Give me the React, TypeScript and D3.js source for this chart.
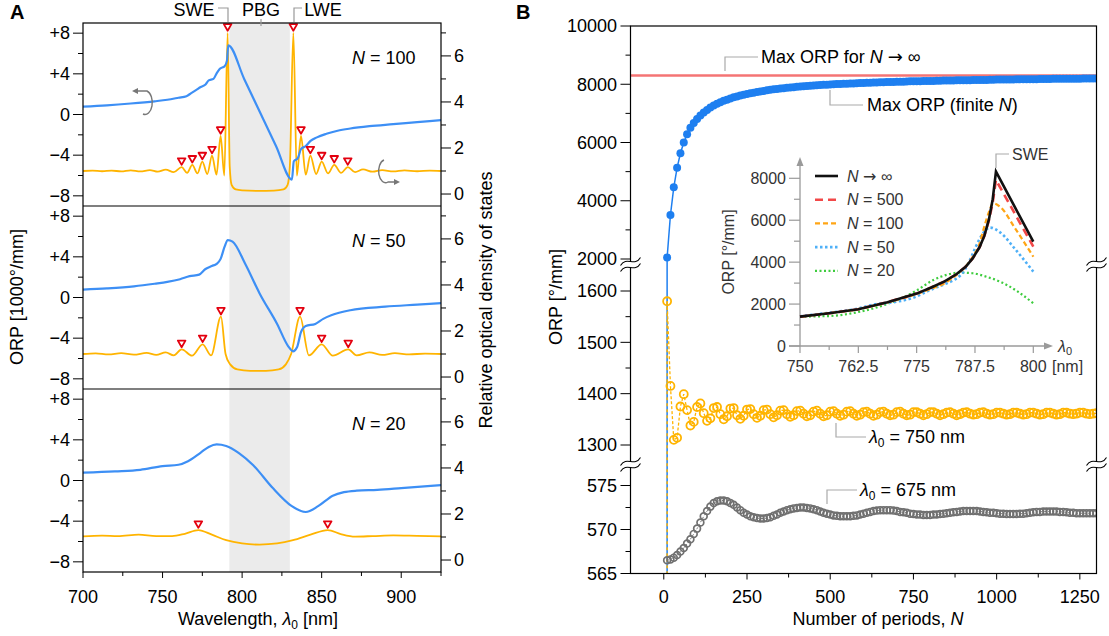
import React from 'react'
import * as d3 from 'd3'

const FONT = '"Liberation Sans", Arial, Helvetica, sans-serif'
const ARROW_FONT = '"DejaVu Sans", sans-serif'

// ---------- panel A : [wavelength nm, value] ----------
// ORP in 1000 deg/mm (left axis)
const orp100 = [[700,0.77],[715,0.9],[730,1.08],[745,1.3],[753,1.45],[760,1.65],[765,1.8],[768,2.1],[771,2.4],[774,2.7],[777,2.95],[779,3.35],[782,3.5],[784,4.05],[786,4.5],[789,4.75],[790.5,5.3],[791.3,6.8],[801.3,3.5],[811.3,0.2],[821.3,-3.1],[831.3,-6.4],[832.5,-4.6],[835,-4.3],[837,-3.4],[840,-3.1],[843,-2.6],[847,-2.25],[853,-1.9],[860,-1.6],[868,-1.38],[880,-1.15],[895,-0.95],[910,-0.75],[925,-0.55]]
const orp50 = [[700,0.78],[715,0.9],[732,1.1],[745,1.35],[753,1.53],[761,1.8],[767,2.1],[773,2.25],[777,2.8],[781,3.1],[784,3.3],[786.5,3.8],[789,5.0],[791,5.65],[794,5.5],[802,3.3],[811,0.4],[822,-2.6],[829,-4.8],[832,-5.3],[834.5,-4.9],[837,-3.4],[840,-2.8],[846,-2.6],[851,-2.1],[856,-1.75],[868,-1.25],[890,-0.9],[910,-0.7],[925,-0.55]]
const orp20 = [[700,0.77],[720,0.9],[736,1.05],[750,1.42],[760,1.55],[766,1.9],[774,2.75],[779,3.3],[784,3.55],[790,3.4],[798,2.7],[807,1.5],[819,-0.7],[831,-2.5],[840,-3.1],[848,-2.5],[857,-1.5],[864,-1.15],[872,-1.0],[885,-0.92],[900,-0.75],[925,-0.45]]

// relative optical density of states (right axis)
const ldos100 = [[700,1.0],[706,1.02],[712,0.99],[718,1.02],[724,0.98],[730,1.03],[736,0.98],[742,1.04],[747,0.97],[752,1.06],[757,0.95],[762,1.17],[765.4,0.92],[768.7,1.27],[771.9,0.9],[775,1.41],[778.1,0.87],[781.1,1.67],[783.9,0.84],[786.5,2.52],[788.8,0.8],[790.9,7.0],[792.2,1.2],[793.4,0.4],[796,0.2],[800,0.16],[810,0.14],[820,0.15],[826,0.2],[828.6,0.4],[830,1.2],[832.2,7.0],[834.4,0.8],[837,2.52],[840,0.84],[842.9,1.67],[846.5,0.87],[850,1.41],[854,0.9],[857.9,1.27],[862.2,0.92],[866.4,1.17],[871,0.95],[876,1.07],[882,0.97],[888,1.04],[895,0.98],[902,1.03],[910,0.99],[918,1.02],[925,1.0]]
const ldos50 = [[700,1.0],[708,1.03],[716,0.98],[724,1.04],[732,0.97],[740,1.05],[746,0.96],[752,1.07],[757,0.94],[762,1.2],[768.5,0.93],[775.2,1.42],[780.5,0.94],[786.7,2.62],[789.6,1.0],[792.5,0.55],[797,0.33],[805,0.27],[815,0.27],[823,0.33],[827.5,0.55],[830.8,1.0],[836.4,2.62],[842,0.94],[850,1.42],[857,0.93],[866.7,1.2],[872,0.94],[880,1.07],[888,0.96],[896,1.04],[905,0.98],[915,1.02],[925,1.0]]
const ldos20 = [[700,1.03],[712,1.06],[722,1.04],[735,1.1],[746,1.04],[756,1.04],[764,1.14],[772.5,1.3],[781,1.1],[790,0.86],[800,0.72],[811,0.67],[822,0.72],[832,0.86],[843,1.1],[853.8,1.3],[862,1.13],[871,1.02],[882,1.04],[895,1.07],[910,1.05],[925,1.03]]

// marked DOS peaks
const peaks100 = [[762.0,1.17],[768.7,1.27],[775.0,1.41],[781.1,1.67],[786.5,2.52],[790.9,7.0],[832.2,7.0],[837.0,2.52],[842.9,1.67],[850.0,1.41],[857.9,1.27],[866.4,1.17]]
const peaks50 = [[762.0,1.2],[775.2,1.42],[786.7,2.62],[836.4,2.62],[850.0,1.42],[866.7,1.2]]
const peaks20 = [[772.5,1.3],[853.8,1.3]]

const gapEdges = [792, 830]
const panelN = ['100', '50', '20']

// ---------- panel B : ORP vs number of periods ----------
const periods = d3.range(10, 1310, 10)
const maxOrp = [2050,3510,4460,5130,5630,6000,6280,6510,6670,6810,
  6930,7030,7120,7200,7270,7330,7380,7430,7470,7510,
  7550,7580,7610,7640,7665,7690,7710,7730,7750,7770,
  7790,7810,7825,7840,7855,7865,7880,7890,7900,7910,
  7920,7930,7940,7950,7955,7965,7970,7980,7985,7995,
  8000,8005,8010,8015,8020,8025,8030,8035,8040,8045,
  8050,8055,8060,8060,8065,8070,8075,8075,8080,8085,
  8090,8090,8095,8100,8100,8105,8105,8110,8110,8115,
  8115,8120,8120,8125,8125,8130,8130,8135,8135,8140,
  8140,8140,8145,8145,8150,8150,8150,8155,8155,8160,
  8160,8160,8165,8165,8165,8170,8170,8170,8175,8175,
  8175,8175,8180,8180,8180,8180,8185,8185,8185,8185,
  8190,8190,8190,8190,8190,8195,8195,8195,8195,8200]
const orp750 = [1580,1415,1310,1314,1375,1399,1368,1338,1345,1374,
  1381,1362,1347,1352,1372,1374,1360,1350,1356,1371,
  1372,1358,1351,1357,1369,1370,1360,1353,1357,1368,
  1369,1360,1354,1358,1367,1368,1360,1355,1358,1366,
  1367,1361,1356,1358,1365,1367,1361,1356,1358,1365,
  1366,1361,1357,1359,1365,1366,1361,1357,1359,1364,
  1365,1361,1357,1359,1364,1365,1361,1358,1359,1364,
  1365,1361,1358,1359,1364,1364,1361,1358,1360,1364,
  1364,1361,1358,1360,1363,1364,1361,1358,1360,1363,
  1364,1361,1359,1360,1363,1364,1361,1359,1360,1363,
  1363,1361,1359,1360,1363,1363,1361,1359,1360,1363,
  1363,1361,1359,1360,1363,1363,1361,1359,1360,1363,
  1363,1361,1360,1361,1363,1363,1361,1360,1361,1362]
const orp675 = [566.5,566.6,566.8,567.1,567.5,567.9,568.4,568.9,569.5,570.1,
  570.8,571.5,572.1,572.6,573.0,573.2,573.3,573.3,573.2,573.0,
  572.8,572.5,572.2,571.9,571.7,571.5,571.4,571.3,571.25,571.25,
  571.3,571.4,571.55,571.7,571.9,572.05,572.2,572.3,572.4,572.45,
  572.5,572.5,572.45,572.4,572.3,572.2,572.05,571.9,571.8,571.7,
  571.6,571.55,571.5,571.5,571.5,571.5,571.55,571.6,571.7,571.8,
  571.9,572.0,572.1,572.15,572.2,572.2,572.2,572.2,572.15,572.1,
  572.0,571.95,571.9,571.8,571.75,571.7,571.7,571.65,571.65,571.65,
  571.7,571.7,571.75,571.8,571.85,571.9,571.95,572.0,572.05,572.1,
  572.1,572.1,572.1,572.1,572.05,572.0,571.95,571.9,571.9,571.85,
  571.8,571.8,571.75,571.75,571.75,571.75,571.8,571.8,571.85,571.9,
  571.95,572.0,572.0,572.05,572.05,572.05,572.05,572.05,572.0,572.0,
  571.95,571.9,571.9,571.85,571.85,571.85,571.85,571.85,571.85,571.85]
const maxOrpInfinite = 8300

// inset : ORP spectra near the SWE, [wavelength nm, deg/mm]
const insetInf = [[750,1400],[756.25,1560],[762.5,1750],[768.75,2090],[775,2500],[778,2780],[781,3080],[783.5,3420],[785.5,3780],[787,4180],[788.5,4720],[789.5,5250],[790.5,6050],[791.3,7000],[792,8320],[796,6650],[800,4980]]
const inset500 = [[750,1400],[756.25,1560],[762.5,1750],[768.75,2090],[775,2500],[778,2780],[781,3080],[783.5,3420],[785.5,3780],[787,4180],[788.5,4720],[789.5,5250],[790.5,6000],[791.3,6850],[792,7920],[796,6330],[800,4740]]
const inset100 = [[750,1400],[756.25,1570],[762.5,1760],[768.75,2080],[775,2480],[778,2720],[781,3000],[783.5,3380],[785.5,3800],[787,4250],[788.5,4900],[789.5,5700],[790.5,6400],[791.4,6810],[793,6620],[796,5650],[800,4260]]
const inset50 = [[750,1420],[756.25,1590],[762.5,1790],[766,1990],[770,2090],[774,2280],[778,2680],[781,2950],[783,3150],[784.5,3400],[786,3900],[787.5,4650],[789,5300],[790.7,5650],[793,5400],[796,4650],[800,3550]]
const inset20 = [[750,1400],[756.25,1430],[762.5,1620],[768.75,2010],[775,2650],[778.6,3150],[781.5,3400],[784.3,3500],[787,3470],[790,3300],[793,3060],[796.5,2620],[800,2040]]

const BLUE = '#3d8ff5'
const ORANGE = '#ffb400'
const DOT_BLUE = '#1e7ff0'

// ---------- panel A ----------
const xA = d3.scaleLinear().domain([700, 925]).range([83, 441])
const A_TOP = 23
const A_ROW = 183

const fmtSigned = (v: number) => (v > 0 ? `+${v}` : v < 0 ? `\u2212${-v}` : '0')

function PanelA() {
  const series = [
    { orp: orp100, ldos: ldos100, peaks: peaks100 },
    { orp: orp50, ldos: ldos50, peaks: peaks50 },
    { orp: orp20, ldos: ldos20, peaks: peaks20 },
  ]
  const bottom = A_TOP + 3 * A_ROW
  return (
    <g>
      <rect x={xA(gapEdges[0])} y={A_TOP} width={xA(gapEdges[1]) - xA(gapEdges[0])} height={3 * A_ROW} fill="#ebebeb" />
      {series.map((s, i) => {
        const y0 = A_TOP + i * A_ROW
        const yL = d3.scaleLinear().domain([-9, 9]).range([y0 + A_ROW, y0])
        const yR = d3.scaleLinear().domain([-0.52, 7.43]).range([y0 + A_ROW, y0])
        const lineL = d3.line().x((d: any) => xA(d[0])).y((d: any) => yL(d[1])).curve(d3.curveMonotoneX)
        const lineR = d3.line().x((d: any) => xA(d[0])).y((d: any) => yR(d[1])).curve(d3.curveMonotoneX)
        return (
          <g key={i}>
            <path d={lineR(s.ldos as any) || ''} fill="none" stroke={ORANGE} strokeWidth={1.8} />
            <path d={lineL(s.orp as any) || ''} fill="none" stroke={BLUE} strokeWidth={2.2} />
            {s.peaks.map((p, j) => {
              const cx = xA(p[0])
              const cy = yR(p[1]) - 5.5
              return <path key={j} d={`M${cx - 3.8},${cy - 3.3}L${cx + 3.8},${cy - 3.3}L${cx},${cy + 3.3}Z`} fill="#fff" stroke="#e3000f" strokeWidth={1.8} strokeLinejoin="round" />
            })}
            {d3.range(-8, 9, 2).map((v) => {
              const major = v % 4 === 0
              return (
                <g key={'l' + v}>
                  <line x1={83} x2={major ? 73 : 78} y1={yL(v)} y2={yL(v)} stroke="#000" strokeWidth={1} />
                  {major && <text x={70} y={yL(v)} dy="0.35em" textAnchor="end" fontSize={18}>{fmtSigned(v)}</text>}
                </g>
              )
            })}
            {d3.range(0, 8).map((v) => {
              const major = v % 2 === 0
              return (
                <g key={'r' + v}>
                  <line x1={441} x2={major ? 451 : 446} y1={yR(v)} y2={yR(v)} stroke="#000" strokeWidth={1} />
                  {major && <text x={454} y={yR(v)} dy="0.35em" fontSize={18}>{v}</text>}
                </g>
              )
            })}
            <text x={352} y={y0 + 41} fontSize={18}>
              <tspan fontStyle="italic">N</tspan> = {panelN[i]}
            </text>
          </g>
        )
      })}
      <rect x={83} y={A_TOP} width={441 - 83} height={3 * A_ROW} fill="none" stroke="#000" strokeWidth={1.2} />
      <line x1={83} x2={441} y1={A_TOP + A_ROW} y2={A_TOP + A_ROW} stroke="#000" strokeWidth={1.2} />
      <line x1={83} x2={441} y1={A_TOP + 2 * A_ROW} y2={A_TOP + 2 * A_ROW} stroke="#000" strokeWidth={1.2} />
      {d3.range(700, 926, 25).map((v) => {
        const major = v % 50 === 0
        return (
          <g key={v}>
            <line x1={xA(v)} x2={xA(v)} y1={bottom} y2={bottom + (major ? 6 : 4)} stroke="#000" />
            {major && v < 925 && <text x={xA(v)} y={603} textAnchor="middle" fontSize={18}>{v}</text>}
          </g>
        )
      })}
      <text x={258} y={625} textAnchor="middle" fontSize={18}>
        Wavelength, <tspan fontStyle="italic">λ</tspan><tspan fontSize={12} dy={4}>0</tspan><tspan dy={-4}> [nm]</tspan>
      </text>
      <text transform="translate(23,297) rotate(-90)" textAnchor="middle" fontSize={18}>ORP [1000°/mm]</text>
      <text transform="translate(492,300) rotate(-90)" textAnchor="middle" fontSize={18}>Relative optical density of states</text>
      {/* top annotations */}
      <text x={194} y={16} textAnchor="middle" fontSize={18}>SWE</text>
      <text x={261} y={16} textAnchor="middle" fontSize={18}>PBG</text>
      <text x={323} y={16} textAnchor="middle" fontSize={18}>LWE</text>
      <path d="M218,8H228V22" fill="none" stroke="#999" strokeWidth={1.2} />
      <path d="M261,19V26" fill="none" stroke="#999" strokeWidth={1.2} />
      <path d="M302,8H294V22" fill="none" stroke="#999" strokeWidth={1.2} />
      {/* rotation arrows */}
      <path d="M137,91H147A7,11.5 0 1 1 143,114" fill="none" stroke="#777" strokeWidth={1.4} />
      <path d="M132,91L138,88L138,94Z" fill="#777" />
      <path d="M384,160A7,11.5 0 1 0 388,182H395" fill="none" stroke="#777" strokeWidth={1.4} />
      <path d="M400,182L394,179L394,185Z" fill="#777" />
      <text x={10} y={19} fontSize={20} fontWeight="bold">A</text>
    </g>
  )
}

// ---------- panel B ----------
const B_LEFT = 630.5
const B_RIGHT = 1096.5
const B_TOP = 26
const B_BOTTOM = 573.5
const xB = d3.scaleLinear().domain([-100, 1300]).range([B_LEFT, B_RIGHT])
const yTop = d3.scaleLinear().domain([2000, 10000]).range([259, 26])
const yMid = d3.scaleLinear().domain([1300, 1600]).range([445, 291])
const yBot = d3.scaleLinear().domain([565, 575]).range([573.5, 485.5])
const BREAKS = [264.5, 464.5]

function BreakMark({ x, y }: { x: number; y: number }) {
  const top = `M${x - 10},${y + 1} C${x - 4},${y - 9} ${x + 4},${y + 3} ${x + 10},${y - 7}`
  const bot = `M${x - 10},${y + 7} C${x - 4},${y - 3} ${x + 4},${y + 9} ${x + 10},${y - 1}`
  const fill = `${top} L${x + 10},${y - 1} C${x + 4},${y + 9} ${x - 4},${y - 3} ${x - 10},${y + 7}Z`
  return (
    <g>
      <path d={fill} fill="#fff" />
      <path d={top} fill="none" stroke="#000" strokeWidth={1.1} />
      <path d={bot} fill="none" stroke="#000" strokeWidth={1.1} />
    </g>
  )
}

function Inset() {
  const xI = d3.scaleLinear().domain([750, 800]).range([800, 1033.3])
  const yI = d3.scaleLinear().domain([0, 8000]).range([346, 178.3])
  const linear = d3.line().x((d: any) => xI(d[0])).y((d: any) => yI(d[1]))
  const smooth = d3.line().x((d: any) => xI(d[0])).y((d: any) => yI(d[1])).curve(d3.curveMonotoneX)
  const curves = [
    { key: 'inf', data: insetInf, color: '#111', dash: undefined, w: 2.6, gen: linear, label: 'inf' },
    { key: '500', data: inset500, color: '#f24848', dash: '8,5', w: 2.6, gen: linear, label: '500' },
    { key: '100', data: inset100, color: '#ffa515', dash: '5,3', w: 2.2, gen: smooth, label: '100' },
    { key: '50', data: inset50, color: '#4fb0f7', dash: '2.5,2.5', w: 2.6, gen: smooth, label: '50' },
    { key: '20', data: inset20, color: '#3ecc3e', dash: '2,2.5', w: 2.2, gen: smooth, label: '20' },
  ]
  const drawOrder = ['20', '50', '100', '500', 'inf']
  const grey = '#9a9a9a'
  return (
    <g>
      <line x1={800} x2={800} y1={346} y2={163} stroke={grey} strokeWidth={1.3} />
      <path d="M800,157L796.5,166L803.5,166Z" fill={grey} />
      <line x1={789} x2={1046} y1={346} y2={346} stroke={grey} strokeWidth={1.3} />
      <path d="M1053,346L1044,342.5L1044,349.5Z" fill={grey} />
      {d3.range(0, 8001, 1000).map((v) => {
        const major = v % 2000 === 0
        return (
          <g key={v}>
            <line x1={800} x2={major ? 789 : 794} y1={yI(v)} y2={yI(v)} stroke={grey} strokeWidth={1.2} />
            {major && <text x={786} y={yI(v)} dy="0.35em" textAnchor="end" fontSize={16} fill="#333">{v}</text>}
          </g>
        )
      })}
      {d3.range(750, 800.1, 6.25).map((v, i) => {
        const major = i % 2 === 0
        return (
          <g key={v}>
            <line x1={xI(v)} x2={xI(v)} y1={346} y2={major ? 353 : 350} stroke={grey} strokeWidth={1.2} />
            {major && <text x={xI(v)} y={372} textAnchor="middle" fontSize={16} fill="#333">{v}</text>}
          </g>
        )
      })}
      <text x={1052} y={372} fontSize={16} fill="#333">[nm]</text>
      <text x={1058} y={352} fontSize={16} fill="#333">
        <tspan fontStyle="italic">λ</tspan><tspan fontSize={11} dy={3}>0</tspan>
      </text>
      <text transform="translate(734,252) rotate(-90)" textAnchor="middle" fontSize={16} fill="#333">ORP [°/mm]</text>
      {drawOrder.map((k) => {
        const c = curves.find((q) => q.key === k)!
        return <path key={k} d={c.gen(c.data as any) || ''} fill="none" stroke={c.color} strokeWidth={c.w} strokeDasharray={c.dash} />
      })}
      {curves.map((c, i) => {
        const y = 176 + i * 23.7
        return (
          <g key={c.key}>
            <line x1={815} x2={838} y1={y} y2={y} stroke={c.color} strokeWidth={c.w} strokeDasharray={c.dash} />
            <text x={847} y={y} dy="0.35em" fontSize={16} fill="#333">
              <tspan fontStyle="italic">N</tspan>
              {c.label === 'inf' ? (
                <>
                  {' '}
                  <tspan fontFamily={ARROW_FONT}>{'\u2192'}</tspan> {'\u221e'}
                </>
              ) : (
                ` = ${c.label}`
              )}
            </text>
          </g>
        )
      })}
      <path d="M996,168V154H1009" fill="none" stroke="#aaa" strokeWidth={1.2} />
      <text x={1012} y={154} dy="0.35em" fontSize={16} fill="#333">SWE</text>
    </g>
  )
}

function PanelB() {
  const blue = periods.map((n, i) => [n, maxOrp[i]])
  const orange = periods.map((n, i) => [n, orp750[i]])
  const grey = periods.map((n, i) => [n, orp675[i]])
  const blueLine = d3.line().x((d: any) => xB(d[0])).y((d: any) => yTop(d[1]))
  const orangeLine = d3.line().x((d: any) => xB(d[0])).y((d: any) => yMid(d[1]))
  const greyLine = d3.line().x((d: any) => xB(d[0])).y((d: any) => yBot(d[1]))
  const leftTicks = [
    ...d3.range(2000, 10001, 1000).map((v) => ({ y: yTop(v), v, major: v % 2000 === 0 })),
    ...d3.range(1300, 1601, 50).map((v) => ({ y: yMid(v), v, major: v % 100 === 0 })),
    ...[565, 567.5, 570, 572.5, 575].map((v) => ({ y: yBot(v), v, major: v % 5 === 0 })),
  ]
  return (
    <g>
      <defs>
        <clipPath id="clipB">
          <rect x={B_LEFT} y={B_TOP} width={B_RIGHT - B_LEFT} height={B_BOTTOM - B_TOP} />
        </clipPath>
      </defs>
      <g clipPath="url(#clipB)">
        <line x1={B_LEFT} x2={B_RIGHT} y1={yTop(maxOrpInfinite)} y2={yTop(maxOrpInfinite)} stroke="#f47474" strokeWidth={2.6} />
        {/* drop lines from the first computed N towards N = 0 */}
        <line x1={xB(blue[0][0])} x2={xB(blue[0][0])} y1={yTop(blue[0][1])} y2={B_BOTTOM} stroke={DOT_BLUE} strokeWidth={1.5} />
        <line x1={xB(orange[0][0])} x2={xB(orange[0][0])} y1={yMid(orange[0][1])} y2={B_BOTTOM} stroke={ORANGE} strokeWidth={1.5} strokeDasharray="3,3" />
        <path d={greyLine(grey as any) || ''} fill="none" stroke="#777" strokeWidth={1} strokeDasharray="2,2" />
        {grey.map((d, i) => (
          <circle key={'g' + i} cx={xB(d[0])} cy={yBot(d[1])} r={3.4} fill="none" stroke="#707070" strokeWidth={1.7} />
        ))}
        <path d={orangeLine(orange as any) || ''} fill="none" stroke={ORANGE} strokeWidth={1.3} strokeDasharray="3,2" />
        {orange.map((d, i) => (
          <circle key={'o' + i} cx={xB(d[0])} cy={yMid(d[1])} r={4} fill="none" stroke={ORANGE} strokeWidth={1.8} />
        ))}
        <path d={blueLine(blue as any) || ''} fill="none" stroke={DOT_BLUE} strokeWidth={1.5} />
        {blue.map((d, i) => (
          <circle key={'b' + i} cx={xB(d[0])} cy={yTop(d[1])} r={4} fill={DOT_BLUE} />
        ))}
      </g>
      <Inset />
      <rect x={B_LEFT} y={B_TOP} width={B_RIGHT - B_LEFT} height={B_BOTTOM - B_TOP} fill="none" stroke="#000" strokeWidth={1.2} />
      {leftTicks.map((t, i) => (
        <g key={i}>
          <line x1={B_LEFT} x2={B_LEFT - (t.major ? 10 : 5)} y1={t.y} y2={t.y} stroke="#000" />
          {t.major && <text x={617} y={t.y} dy="0.35em" textAnchor="end" fontSize={18}>{t.v}</text>}
        </g>
      ))}
      {BREAKS.map((y) => (
        <g key={y}>
          <BreakMark x={B_LEFT} y={y} />
          <BreakMark x={B_RIGHT} y={y} />
        </g>
      ))}
      {d3.range(0, 1251, 125).map((v) => {
        const major = v % 250 === 0
        return (
          <g key={v}>
            <line x1={xB(v)} x2={xB(v)} y1={B_BOTTOM} y2={B_BOTTOM + (major ? 6 : 4)} stroke="#000" />
            {major && <text x={xB(v)} y={603} textAnchor="middle" fontSize={18}>{v}</text>}
          </g>
        )
      })}
      <text x={878} y={625} textAnchor="middle" fontSize={18}>
        Number of periods, <tspan fontStyle="italic">N</tspan>
      </text>
      <text transform="translate(562,297) rotate(-90)" textAnchor="middle" fontSize={18}>ORP [°/mm]</text>
      {/* annotations */}
      <path d="M758,57H725V71" fill="none" stroke="#aaa" strokeWidth={1.2} />
      <text x={761} y={57} dy="0.35em" fontSize={18}>
        Max ORP for <tspan fontStyle="italic">N</tspan> <tspan fontFamily={ARROW_FONT}>{'\u2192'}</tspan> {'\u221e'}
      </text>
      <path d="M863,105H830V90" fill="none" stroke="#aaa" strokeWidth={1.2} />
      <text x={867} y={105} dy="0.35em" fontSize={18}>
        Max ORP (finite <tspan fontStyle="italic">N</tspan>)
      </text>
      <path d="M866,437H836V423" fill="none" stroke="#aaa" strokeWidth={1.2} />
      <text x={869} y={437} dy="0.35em" fontSize={18}>
        <tspan fontStyle="italic">λ</tspan><tspan fontSize={12} dy={4}>0</tspan><tspan dy={-4}> = 750 nm</tspan>
      </text>
      <path d="M857,490H827V504" fill="none" stroke="#aaa" strokeWidth={1.2} />
      <text x={860} y={490} dy="0.35em" fontSize={18}>
        <tspan fontStyle="italic">λ</tspan><tspan fontSize={12} dy={4}>0</tspan><tspan dy={-4}> = 675 nm</tspan>
      </text>
      <text x={516} y={19} fontSize={20} fontWeight="bold">B</text>
    </g>
  )
}

export default function App() {
  return (
    <svg
      width={1109}
      height={636}
      style={{ position: 'absolute', left: 0, top: 0, background: '#fff' }}
      fontFamily={FONT}
    >
      <PanelA />
      <PanelB />
    </svg>
  )
}
